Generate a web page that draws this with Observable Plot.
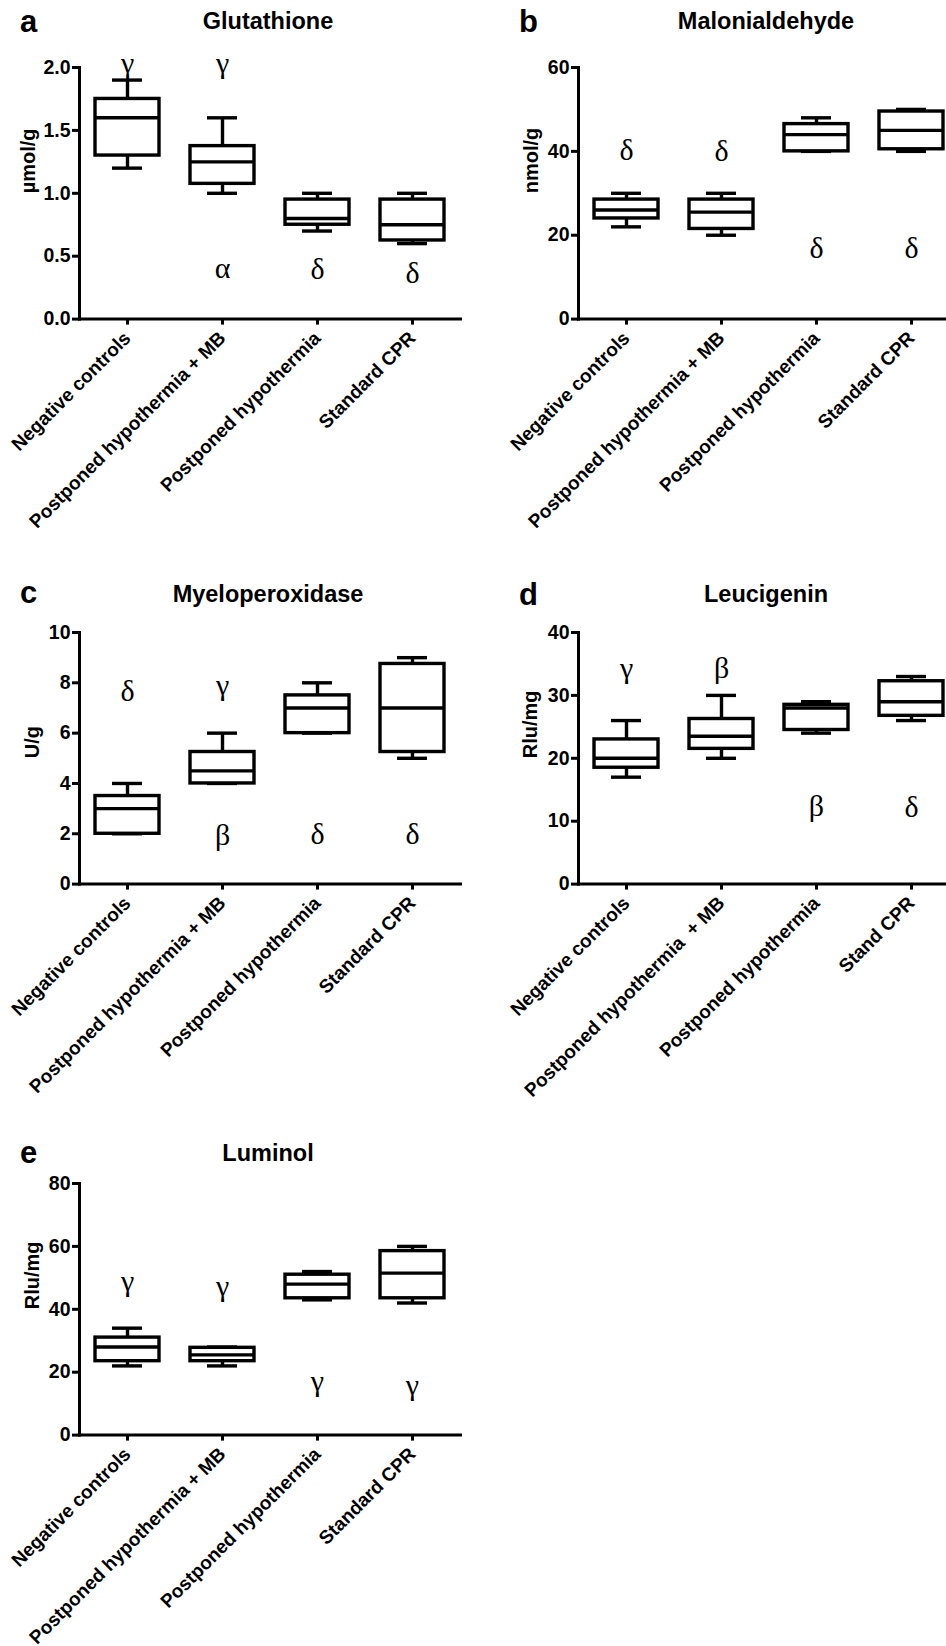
<!DOCTYPE html>
<html><head><meta charset="utf-8">
<script src="https://cdn.jsdelivr.net/npm/d3@7"></script>
<script src="https://cdn.jsdelivr.net/npm/@observablehq/plot@0.6"></script>
<style>
html,body{margin:0;padding:0;background:#fff;overflow:hidden;width:946px;height:1646px;}
#root{position:relative;width:946px;height:1646px;overflow:hidden;font-family:"Liberation Sans",Arial,sans-serif;color:#000;}
.title{position:absolute;font-weight:bold;white-space:nowrap;transform:translateX(-50%);}
.letter{position:absolute;font-weight:bold;white-space:nowrap;}
.panel{position:absolute;width:473px;}
</style></head><body><div id="root"></div><script>
// Categories
const groups = ["Negative controls", "Postponed hypothermia + MB", "Postponed hypothermia", "Standard CPR"];
const groupsD = ["Negative controls", "Postponed hypothermia\u00a0 + MB", "Postponed hypothermia", "Stand CPR"];

// a: Glutathione (µmol/g)
const gshMin = [1.2, 1.0, 0.7, 0.6];
const gshQ1  = [1.3, 1.075, 0.75, 0.625];
const gshMed = [1.6, 1.25, 0.8, 0.75];
const gshQ3  = [1.75, 1.375, 0.95, 0.95];
const gshMax = [1.9, 1.6, 1.0, 1.0];
const gshTicks = [0, 0.5, 1.0, 1.5, 2.0];
const gshSym = ["γ", "γ", "α", "δ", "δ"];
const gshSymGroup = [0, 1, 1, 2, 3];
const gshSymVal = [1.96, 1.96, 0.33, 0.32, 0.29];

// b: Malonialdehyde (nmol/g)
const mdaMin = [22, 20, 40, 40];
const mdaQ1  = [24, 21.5, 40, 40.5];
const mdaMed = [26, 25.5, 44, 45];
const mdaQ3  = [28.5, 28.5, 46.5, 49.5];
const mdaMax = [30, 30, 48, 50];
const mdaTicks = [0, 20, 40, 60];
const mdaSym = ["δ", "δ", "δ", "δ"];
const mdaSymGroup = [0, 1, 2, 3];
const mdaSymVal = [37.9, 37.7, 14.5, 14.5];

// c: Myeloperoxidase (U/g)
const mpoMin = [2, 4, 6, 5];
const mpoQ1  = [2, 4, 6, 5.25];
const mpoMed = [3, 4.5, 7, 7];
const mpoQ3  = [3.5, 5.25, 7.5, 8.75];
const mpoMax = [4, 6, 8, 9];
const mpoTicks = [0, 2, 4, 6, 8, 10];
const mpoSym = ["δ", "γ", "β", "δ", "δ"];
const mpoSymGroup = [0, 1, 1, 2, 3];
const mpoSymVal = [7.28, 7.5, 1.56, 1.59, 1.59];

// d: Leucigenin (Rlu/mg)
const leuMin = [17, 20, 24, 26];
const leuQ1  = [18.5, 21.5, 24.5, 26.75];
const leuMed = [20, 23.5, 28, 29];
const leuQ3  = [23, 26.25, 28.5, 32.25];
const leuMax = [26, 30, 29, 33];
const leuTicks = [0, 10, 20, 30, 40];
const leuSym = ["γ", "β", "β", "δ"];
const leuSymGroup = [0, 1, 2, 3];
const leuSymVal = [32.8, 32.7, 10.8, 10.6];

// e: Luminol (Rlu/mg)
const lumMin = [22, 22, 43, 42];
const lumQ1  = [23.5, 23.5, 43.5, 43.5];
const lumMed = [28, 25.5, 48, 51.5];
const lumQ3  = [31, 27.75, 51, 58.5];
const lumMax = [34, 28, 52, 60];
const lumTicks = [0, 20, 40, 60, 80];
const lumSym = ["γ", "γ", "γ", "γ"];
const lumSymGroup = [0, 1, 2, 3];
const lumSymVal = [45.7, 44.1, 13.9, 12.9];

const root = document.getElementById("root");
const FONT = "'Liberation Sans', Arial, Helvetica, sans-serif";

function addText(cls, text, x, baseline, fs) {
  const d = document.createElement("div");
  d.className = cls;
  d.textContent = text;
  d.style.fontSize = fs + "px";
  d.style.lineHeight = fs + "px";
  d.style.left = x + "px";
  d.style.top = (baseline - 0.8465 * fs) + "px";
  root.appendChild(d);
}

function panel(p) {
  const rows = p.cats.map((c, i) => ({c, min: p.min[i], q1: p.q1[i], med: p.med[i], q3: p.q3[i], max: p.max[i]}));
  const letters = p.sym.map((s, i) => ({c: p.cats[p.symGroup[i]], v: p.symVal[i], s}));
  const plotH = 251.6, mt = 30, mb = 220;
  const line = {stroke: "#000", strokeWidth: 3.4};
  const chart = Plot.plot({
    width: 473, height: mt + plotH + mb,
    marginLeft: 79, marginRight: 13, marginTop: mt, marginBottom: mb,
    style: {fontFamily: FONT, fontWeight: "bold", fontSize: "19px", color: "#000", background: "transparent", overflow: "visible", maxWidth: "none"},
    x: {domain: p.cats, paddingInner: 0.33, paddingOuter: 0.165, label: null},
    y: {domain: [p.ticks[0], p.ticks[p.ticks.length - 1]], label: null},
    marks: [
      Plot.ruleX(rows, {x: "c", y1: "q3", y2: "max", ...line}),
      Plot.ruleX(rows, {x: "c", y1: "min", y2: "q1", ...line}),
      Plot.tickY(rows, {x: "c", y: "max", insetLeft: 17, insetRight: 17, ...line}),
      Plot.tickY(rows, {x: "c", y: "min", insetLeft: 17, insetRight: 17, ...line}),
      Plot.barY(rows, {x: "c", y1: "q1", y2: "q3", fill: "#fff", ...line}),
      Plot.tickY(rows, {x: "c", y: "med", ...line}),
      Plot.text(letters, {x: "c", y: "v", text: "s", fontFamily: "'Liberation Serif', 'Times New Roman', serif", fontSize: 30, fontWeight: "normal", lineAnchor: "bottom", fill: "#000"}),
      Plot.axisY({ticks: p.ticks, tickFormat: p.fmt, tickSize: 7, tickPadding: 2, stroke: "#000", strokeWidth: 3, fontSize: 19.5, fontWeight: "bold", fill: "#000", label: null}),
      Plot.axisX({tickSize: 6, tickPadding: 10, stroke: "#000", strokeWidth: 3, tickRotate: -45, fontSize: 19, fontWeight: "bold", fill: "#000", label: null}),
      Plot.frame({anchor: "left", stroke: "#000", strokeWidth: 3}),
      Plot.frame({anchor: "bottom", stroke: "#000", strokeWidth: 3}),
      Plot.text([p.ylabel], {frameAnchor: "left", rotate: -90, dx: p.labelDx, fontSize: 20, fontWeight: "bold", fill: "#000"})
    ]
  });
  const wrap = document.createElement("div");
  wrap.className = "panel";
  wrap.style.left = p.left + "px";
  wrap.style.top = (p.plotTop - mt) + "px";
  wrap.appendChild(chart);
  root.appendChild(wrap);
  addText("title", p.title, p.titleX, p.titleY, 23.5);
  addText("letter", p.letter, p.letterX, p.letterY, 31);
}

const f1 = d3.format(".1f"), f0 = d3.format("d");
panel({letter: "a", title: "Glutathione", ylabel: "µmol/g", cats: groups, min: gshMin, q1: gshQ1, med: gshMed, q3: gshQ3, max: gshMax, ticks: gshTicks, fmt: f1, sym: gshSym, symGroup: gshSymGroup, symVal: gshSymVal,
  left: 0, plotTop: 66.7, titleX: 268, titleY: 30, letterX: 20, letterY: 32.5, labelDx: -51});
panel({letter: "b", title: "Malonialdehyde", ylabel: "nmol/g", cats: groups, min: mdaMin, q1: mdaQ1, med: mdaMed, q3: mdaQ3, max: mdaMax, ticks: mdaTicks, fmt: f0, sym: mdaSym, symGroup: mdaSymGroup, symVal: mdaSymVal,
  left: 499, plotTop: 66.7, titleX: 766, titleY: 30, letterX: 519, letterY: 32.5, labelDx: -47});
panel({letter: "c", title: "Myeloperoxidase", ylabel: "U/g", cats: groups, min: mpoMin, q1: mpoQ1, med: mpoMed, q3: mpoQ3, max: mpoMax, ticks: mpoTicks, fmt: f0, sym: mpoSym, symGroup: mpoSymGroup, symVal: mpoSymVal,
  left: 0, plotTop: 631.7, titleX: 268, titleY: 603, letterX: 20, letterY: 603, labelDx: -47});
panel({letter: "d", title: "Leucigenin", ylabel: "Rlu/mg", cats: groupsD, min: leuMin, q1: leuQ1, med: leuMed, q3: leuQ3, max: leuMax, ticks: leuTicks, fmt: f0, sym: leuSym, symGroup: leuSymGroup, symVal: leuSymVal,
  left: 499, plotTop: 631.7, titleX: 766, titleY: 603, letterX: 519, letterY: 605, labelDx: -48});
panel({letter: "e", title: "Luminol", ylabel: "Rlu/mg", cats: groups, min: lumMin, q1: lumQ1, med: lumMed, q3: lumQ3, max: lumMax, ticks: lumTicks, fmt: f0, sym: lumSym, symGroup: lumSymGroup, symVal: lumSymVal,
  left: 0, plotTop: 1183.3, titleX: 268, titleY: 1161.7, letterX: 20, letterY: 1163, labelDx: -47});
</script></body></html>
